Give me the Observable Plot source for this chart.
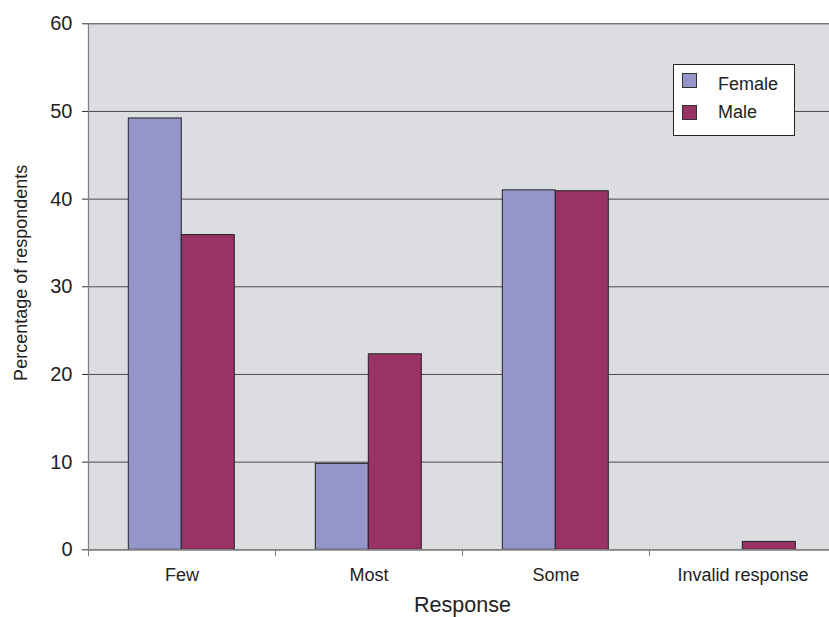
<!DOCTYPE html>
<html>
<head>
<meta charset="utf-8">
<script src="https://cdn.jsdelivr.net/npm/d3@7"></script>
<script src="https://cdn.jsdelivr.net/npm/@observablehq/plot@0.6"></script>
<style>
  html, body { margin: 0; padding: 0; background: #fff; }
  #wrap { position: relative; width: 829px; height: 617px; overflow: hidden; font-family: Arial, "Liberation Sans", Helvetica, sans-serif; }
  #wrap svg { max-width: none !important; display: block; }
  #legend { position: absolute; left: 673px; top: 64px; width: 122px; height: 72px; box-sizing: border-box; border: 1px solid #222; background: #fff; }
  .sw { position: absolute; left: 8px; width: 15px; height: 15px; box-sizing: border-box; border: 1px solid #333; }
  .lt { position: absolute; left: 44px; font-size: 18px; line-height: 18px; color: #222; white-space: nowrap; }
</style>
</head>
<body>
<div id="wrap"></div>
<script>
const responses = ["Few", "Most", "Some", "Invalid response"];
const sexes = ["Female", "Male"];
const female = [49.2, 9.8, 41.0, 0];
const male = [35.9, 22.3, 40.9, 0.9];
const yTicks = [0, 10, 20, 30, 40, 50, 60];
const colors = ["#9595c9", "#993366"];
const yLabel = "Percentage of respondents";
const xLabel = "Response";

const rows = [];
responses.forEach((r, i) => {
  rows.push({response: r, sex: "Female", value: female[i]});
  rows.push({response: r, sex: "Male", value: male[i]});
});

const chart = Plot.plot({
  width: 838,
  height: 617,
  marginLeft: 86.7,
  marginRight: 0,
  marginTop: 23.3,
  marginBottom: 67.7,
  style: {fontFamily: 'Arial, "Liberation Sans", Helvetica, sans-serif', color: "#222", background: "transparent", maxWidth: "none"},
  fx: {domain: responses, padding: 0},
  x: {domain: sexes, paddingInner: 0, paddingOuter: 0.75, axis: null},
  y: {domain: [0, 60], axis: null},
  color: {domain: sexes, range: colors},
  marks: [
    Plot.frame({fill: "#dcdde0", stroke: "#dcdde0", strokeWidth: 1.5}),
    Plot.gridY(yTicks, {stroke: "#4a4a4a", strokeOpacity: 1}),
    Plot.barY(rows, {filter: d => d.value > 0, fx: "response", x: "sex", y: "value", fill: "sex", stroke: "#222", strokeWidth: 1}),
    Plot.ruleY([0], {stroke: "#808080", strokeWidth: 1.5}),
    Plot.frame({anchor: "left", facetAnchor: "left", stroke: "#808080", strokeWidth: 1.2}),
    Plot.frame({anchor: "left", stroke: "#808080", insetTop: 526, insetBottom: -6}),
    Plot.axisY(yTicks, {anchor: "left", tickSize: 6, tickPadding: 10, fontSize: 20, label: null, stroke: "#333"}),
    Plot.text([yLabel], {text: d => d, frameAnchor: "left", facetAnchor: "left", rotate: -90, textAnchor: "middle", dx: -74.5, dy: -14, lineAnchor: "top", fontSize: 18, fill: "#222"}),
    Plot.axisFx({anchor: "bottom", tickSize: 0, tickPadding: 18, fontSize: 18, label: null}),
    Plot.axisFx([], {anchor: "bottom", tickSize: 0, fontSize: 21.5, label: xLabel, labelAnchor: "center", labelArrow: "none", labelOffset: 62})
  ]
});

const wrap = document.getElementById("wrap");
wrap.appendChild(chart);

const legend = document.createElement("div");
legend.id = "legend";
sexes.forEach((s, i) => {
  const sw = document.createElement("div");
  sw.className = "sw";
  sw.style.top = (8 + i * 32) + "px";
  sw.style.background = colors[i];
  legend.appendChild(sw);
  const t = document.createElement("div");
  t.className = "lt";
  t.style.top = (10 + i * 28) + "px";
  t.textContent = s;
  legend.appendChild(t);
});
wrap.appendChild(legend);
</script>
</body>
</html>
